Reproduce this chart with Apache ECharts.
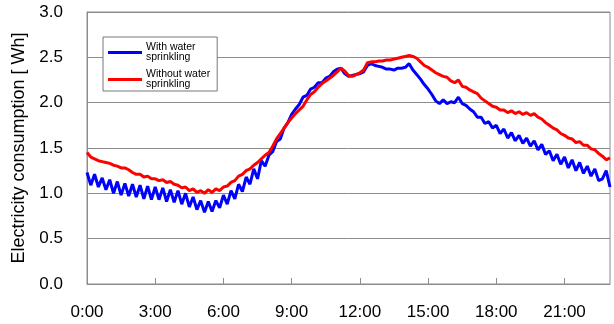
<!DOCTYPE html>
<html>
<head>
<meta charset="utf-8">
<script src="https://cdn.jsdelivr.net/npm/echarts@6/dist/echarts.min.js"></script>
<style>
html,body{margin:0;padding:0;background:#fff;}
#chart{width:614px;height:324px;}
</style>
</head>
<body>
<div id="chart"></div>
<script>
// Sampling: one value every 10 minutes from 0:00 to 23:00
const sampleMinutes = 10;
const xTicks = ['0:00','3:00','6:00','9:00','12:00','15:00','18:00','21:00'];
const yTicks = [0.0, 0.5, 1.0, 1.5, 2.0, 2.5, 3.0];
const seriesNames = ['With water\nsprinkling', 'Without water\nsprinkling'];

const withSprinkling = [
  1.23, 1.09, 1.21, 1.07, 1.17, 1.04,
  1.15, 1.00, 1.13, 0.98, 1.11, 0.97,
  1.10, 0.96, 1.09, 0.94, 1.08, 0.93,
  1.07, 0.93, 1.06, 0.91, 1.04, 0.90,
  1.03, 0.88, 1.00, 0.85, 0.96, 0.82,
  0.92, 0.79, 0.91, 0.80, 0.92, 0.84,
  0.98, 0.88, 1.03, 0.94, 1.10, 1.02,
  1.18, 1.10, 1.27, 1.16, 1.36, 1.30,
  1.42, 1.46, 1.57, 1.60, 1.72, 1.78,
  1.87, 1.93, 1.98, 2.06, 2.08, 2.15,
  2.17, 2.22, 2.22, 2.27, 2.29, 2.34,
  2.37, 2.38, 2.32, 2.29, 2.30, 2.31,
  2.32, 2.34, 2.41, 2.43, 2.41, 2.40,
  2.39, 2.37, 2.37, 2.36, 2.38, 2.38,
  2.39, 2.43, 2.36, 2.31, 2.26, 2.20,
  2.15, 2.09, 2.02, 1.99, 2.03, 1.99,
  2.01, 2.00, 2.06, 1.99, 1.97, 1.93,
  1.90, 1.84, 1.84, 1.77, 1.79, 1.72,
  1.75, 1.66, 1.71, 1.61, 1.67, 1.58,
  1.64, 1.55, 1.61, 1.52, 1.58, 1.48,
  1.54, 1.43, 1.47, 1.36, 1.43, 1.32,
  1.40, 1.28, 1.37, 1.25, 1.34, 1.22,
  1.30, 1.19, 1.27, 1.14, 1.16, 1.25,
  1.07
];

const withoutSprinkling = [
  1.45, 1.40, 1.38, 1.36, 1.35, 1.34,
  1.33, 1.31, 1.30, 1.28, 1.28, 1.26,
  1.23, 1.21, 1.21, 1.18, 1.19, 1.16,
  1.16, 1.14, 1.15, 1.12, 1.13, 1.10,
  1.09, 1.06, 1.07, 1.03, 1.05, 1.01,
  1.03, 1.00, 1.04, 1.01, 1.05, 1.03,
  1.07, 1.08, 1.12, 1.14, 1.19, 1.21,
  1.25, 1.27, 1.31, 1.34, 1.38, 1.42,
  1.45, 1.52, 1.60, 1.66, 1.72, 1.78,
  1.83, 1.88, 1.92, 1.96, 2.03, 2.09,
  2.12, 2.17, 2.21, 2.24, 2.27, 2.30,
  2.34, 2.38, 2.35, 2.30, 2.29, 2.31,
  2.33, 2.36, 2.44, 2.45, 2.45, 2.46,
  2.46, 2.47, 2.47, 2.48, 2.49, 2.50,
  2.51, 2.52, 2.51, 2.49, 2.45, 2.41,
  2.39, 2.36, 2.33, 2.31, 2.29, 2.28,
  2.24, 2.22, 2.25, 2.18, 2.17, 2.14,
  2.12, 2.10, 2.05, 2.02, 1.99, 1.96,
  1.95, 1.92, 1.92, 1.89, 1.91, 1.88,
  1.90, 1.87, 1.89, 1.86, 1.88, 1.84,
  1.82, 1.78, 1.75, 1.72, 1.70, 1.66,
  1.64, 1.61, 1.60, 1.56, 1.57, 1.53,
  1.53, 1.49, 1.48, 1.44, 1.41, 1.37,
  1.39
];

const toPairs = arr => arr.map((v, i) => [i * sampleMinutes / 60, v]);

const chart = echarts.init(document.getElementById('chart'), null, {renderer: 'canvas'});
const font = 'Arial, "Liberation Sans", sans-serif';
chart.setOption({
  animation: false,
  backgroundColor: '#ffffff',
  grid: {left: 87, right: 4, top: 12, bottom: 40, show: true, borderColor: '#8c8c8c', borderWidth: 1},
  legend: {
    orient: 'vertical', left: 103, top: 37,
    backgroundColor: '#ffffff', borderColor: '#777', borderWidth: 1, borderRadius: 0,
    padding: [5, 7, 1, 5], itemGap: 6,
    icon: 'rect', itemWidth: 34, itemHeight: 3,
    textStyle: {fontFamily: font, fontSize: 10.5, lineHeight: 10, color: '#000', padding: [0, 0, 0, -1]},
    data: seriesNames
  },
  xAxis: {
    type: 'value', min: 0, max: 23, interval: 3,
    axisLine: {show: true, lineStyle: {color: '#8c8c8c'}},
    axisTick: {show: true, inside: true, length: 6, lineStyle: {color: '#8c8c8c'}},
    splitLine: {show: false},
    axisLabel: {
      margin: 20, fontFamily: font, fontSize: 17, color: '#000', showMaxLabel: false,
      formatter: v => (v % 3 === 0 ? xTicks[v / 3] : '')
    }
  },
  yAxis: {
    type: 'value', min: 0, max: 3, interval: 0.5,
    name: 'Electricity consumption [ Wh]', nameLocation: 'middle', nameGap: 55,
    nameTextStyle: {fontFamily: font, fontSize: 18, color: '#000'},
    axisLine: {show: true, lineStyle: {color: '#8c8c8c'}},
    axisTick: {show: false},
    splitLine: {show: true, lineStyle: {color: '#8c8c8c', width: 1}},
    axisLabel: {
      margin: 24, fontFamily: font, fontSize: 17, color: '#000',
      formatter: v => yTicks.find(t => Math.abs(t - v) < 1e-9).toFixed(1)
    }
  },
  series: [
    {name: seriesNames[0], type: 'line', data: toPairs(withSprinkling), symbol: 'none',
     lineStyle: {color: '#0000ff', width: 3}, itemStyle: {color: '#0000ff'}},
    {name: seriesNames[1], type: 'line', data: toPairs(withoutSprinkling), symbol: 'none',
     lineStyle: {color: '#ff0000', width: 3}, itemStyle: {color: '#ff0000'}}
  ]
});
</script>
</body>
</html>
